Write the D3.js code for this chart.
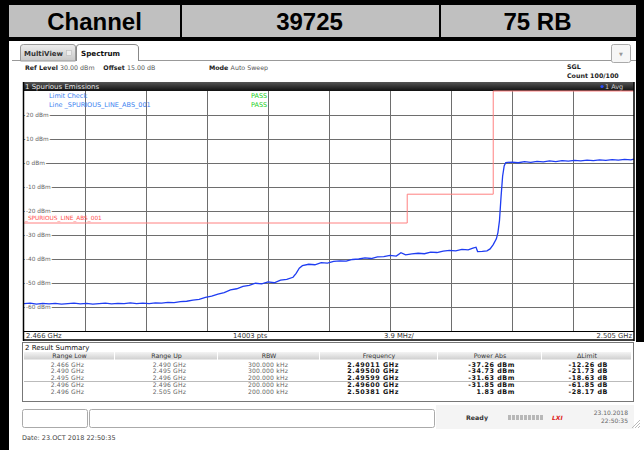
<!DOCTYPE html>
<html>
<head>
<meta charset="utf-8">
<script src="https://cdn.jsdelivr.net/npm/d3@7"></script>
<style>
  body { margin: 0; background: #fff; }
  svg { display: block; }
  text { font-family: "DejaVu Sans", Verdana, sans-serif; }
</style>
</head>
<body>
<script>
// header cells
var headerCells = ["Channel", "39725", "75 RB"];

// y grid labels (dBm)
var levelTicks = [20, 10, 0, -10, -20, -30, -40, -50, -60];

// limit line segments: [start GHz, stop GHz, dBm]
var limitLine = [
  [2.466, 2.4905, -25],
  [2.4905, 2.496, -13],
  [2.496, 2.505, 30]
];

// trace 1 Avg: [GHz, dBm]
var trace = [
  [2.4660,-58.6],[2.4664,-58.4],[2.4668,-58.8],[2.4672,-58.5],[2.4676,-58.7],[2.4680,-58.5],
  [2.4684,-58.8],[2.4688,-58.6],[2.4692,-58.4],[2.4696,-58.7],[2.4700,-58.5],[2.4704,-58.8],
  [2.4708,-58.6],[2.4712,-58.4],[2.4716,-58.7],[2.4720,-58.5],[2.4724,-58.6],[2.4728,-58.3],
  [2.4732,-58.6],[2.4736,-58.4],[2.4740,-58.6],[2.4744,-58.3],[2.4748,-58.4],[2.4752,-58.1],
  [2.4756,-58.2],[2.4760,-57.8],[2.4764,-57.6],[2.4768,-57.1],[2.4772,-56.8],[2.4776,-56.0],
  [2.4780,-55.5],[2.4784,-54.6],[2.4788,-54.0],[2.4792,-52.9],[2.4796,-52.4],[2.4800,-51.4],
  [2.4804,-51.0],[2.4808,-50.1],[2.4812,-50.4],[2.4816,-49.5],[2.4820,-49.9],[2.4824,-48.8],
  [2.4828,-48.5],[2.4832,-47.6],[2.4834,-46.0],[2.4836,-43.8],[2.4838,-42.8],[2.4842,-42.2],
  [2.4846,-42.4],[2.4850,-41.5],[2.4854,-41.7],[2.4858,-41.0],[2.4862,-40.8],[2.4866,-40.9],
  [2.4870,-40.2],[2.4874,-40.0],[2.4878,-39.5],[2.4882,-39.8],[2.4886,-39.1],[2.4890,-39.0],
  [2.4894,-38.5],[2.4898,-38.8],[2.4901,-37.4],[2.4904,-38.3],[2.4908,-37.9],[2.4912,-37.6],
  [2.4916,-37.8],[2.4920,-37.1],[2.4924,-37.3],[2.4928,-36.7],[2.4932,-36.4],[2.4936,-36.6],
  [2.4940,-36.0],[2.4944,-36.2],[2.4947,-35.5],[2.4949,-35.1],[2.4950,-36.9],[2.4953,-36.8],
  [2.4956,-36.6],[2.4958,-35.8],[2.4960,-34.0],[2.4962,-31.6],[2.4963,-29.0],[2.4964,-24.0],
  [2.4965,-14.0],[2.4966,-5.5],[2.4967,-1.2],[2.4968,0.2],[2.4972,0.4],[2.4976,0.1],
  [2.4980,0.6],[2.4984,0.3],[2.4988,0.7],[2.4992,0.5],[2.4996,0.9],[2.5000,0.6],
  [2.5004,1.0],[2.5008,0.8],[2.5012,1.1],[2.5016,0.9],[2.5020,1.2],[2.5024,1.0],
  [2.5028,1.3],[2.5032,1.1],[2.5036,1.4],[2.5040,1.2],[2.5044,1.5],[2.5048,1.3],[2.5050,1.6]
];

// result summary table
var colNames = ["Range Low", "Range Up", "RBW", "Frequency", "Power Abs", "\u0394Limit"];
var rangeLow = ["2.466 GHz", "2.490 GHz", "2.495 GHz", "2.496 GHz", "2.496 GHz"];
var rangeUp = ["2.490 GHz", "2.495 GHz", "2.496 GHz", "2.496 GHz", "2.505 GHz"];
var rbw = ["300.000 kHz", "300.000 kHz", "200.000 kHz", "200.000 kHz", "200.000 kHz"];
var peakFreq = ["2.49011 GHz", "2.49500 GHz", "2.49599 GHz", "2.49600 GHz", "2.50381 GHz"];
var powerAbs = ["-37.26 dBm", "-34.73 dBm", "-31.63 dBm", "-31.85 dBm", "1.83 dBm"];
var deltaLimit = ["-12.26 dB", "-21.73 dB", "-18.63 dB", "-61.85 dB", "-28.17 dB"];

var width = 644, height = 450;
var svg = d3.select("body").append("svg")
  .attr("width", width)
  .attr("height", height);

var defs = svg.append("defs");
var g1 = defs.append("linearGradient").attr("id", "bar").attr("x1", 0).attr("x2", 0).attr("y1", 0).attr("y2", 1);
g1.append("stop").attr("offset", "0%").attr("stop-color", "#555");
g1.append("stop").attr("offset", "100%").attr("stop-color", "#111");
var g2 = defs.append("linearGradient").attr("id", "head").attr("x1", 0).attr("x2", 0).attr("y1", 0).attr("y2", 1);
g2.append("stop").attr("offset", "0%").attr("stop-color", "#f4f4f4");
g2.append("stop").attr("offset", "100%").attr("stop-color", "#cfcfcf");
var g3 = defs.append("linearGradient").attr("id", "tab").attr("x1", 0).attr("x2", 0).attr("y1", 0).attr("y2", 1);
g3.append("stop").attr("offset", "0%").attr("stop-color", "#eee");
g3.append("stop").attr("offset", "100%").attr("stop-color", "#c8c8c8");

// ---- document frame + header ----
svg.append("rect").attr("x", 0).attr("y", 0).attr("width", width).attr("height", 41).attr("fill", "#000");
svg.append("rect").attr("x", 0).attr("y", 0).attr("width", 9).attr("height", height).attr("fill", "#000");
svg.append("rect").attr("x", 636).attr("y", 0).attr("width", 8).attr("height", 342).attr("fill", "#000");

var cellEdges = [9, 180, 439, 636];
headerCells.forEach(function(t, i) {
  svg.append("rect")
    .attr("x", cellEdges[i] + (i ? 2 : 0)).attr("y", 5)
    .attr("width", cellEdges[i + 1] - cellEdges[i] - (i ? 2 : 0)).attr("height", 32)
    .attr("fill", "#c0c0c0");
  svg.append("text")
    .attr("x", (cellEdges[i] + cellEdges[i + 1]) / 2).attr("y", 30)
    .attr("text-anchor", "middle")
    .style("font-family", "'Liberation Sans', Arial, sans-serif")
    .style("font-weight", "bold").style("font-size", "24px")
    .text(t);
});

// ---- tabs ----
svg.append("line").attr("x1", 12).attr("x2", 636).attr("y1", 60.5).attr("y2", 60.5).attr("stroke", "#999");
svg.append("path").attr("d", "M20.5,61 V47 Q20.5,44.5 23.5,44.5 H73 Q75.5,44.5 75.5,47 V61 Z")
  .attr("fill", "url(#tab)").attr("stroke", "#999");
svg.append("text").attr("x", 24).attr("y", 56).style("font-size", "7px").style("font-weight", "bold").attr("fill", "#333").text("MultiView");
svg.append("rect").attr("x", 66.5).attr("y", 50.5).attr("width", 5).attr("height", 5).attr("fill", "#eee").attr("stroke", "#bbb").attr("stroke-width", 0.6);
svg.append("path").attr("d", "M76.5,61 V47 Q76.5,44.5 79.5,44.5 H134 Q138.5,44.5 138.5,48 V61")
  .attr("fill", "#fff").attr("stroke", "#888");
svg.append("text").attr("x", 81).attr("y", 56).style("font-size", "7.2px").style("font-weight", "bold").attr("fill", "#111").text("Spectrum");
svg.append("rect").attr("x", 611.5).attr("y", 44.5).attr("width", 19).attr("height", 18).attr("rx", 2)
  .attr("fill", "#f6f6f6").attr("stroke", "#aaa");
svg.append("text").attr("x", 621).attr("y", 56).attr("text-anchor", "middle").style("font-size", "5px").attr("fill", "#999").text("\u25BC");

// ---- settings row ----
function info(x, y, parts) {
  var t = svg.append("text").attr("x", x).attr("y", y).style("font-size", "6.3px").attr("fill", "#222");
  parts.forEach(function(p) {
    t.append("tspan").style("font-weight", p[1] ? "bold" : "normal").attr("fill", p[1] ? "#222" : "#555").text(p[0]);
  });
}
info(25, 70, [["Ref Level ", 1], ["30.00 dBm", 0], ["\u00A0\u00A0\u00A0 Offset ", 1], ["15.00 dB", 0]]);
info(209, 70, [["Mode ", 1], ["Auto Sweep", 0]]);
info(567, 69, [["SGL", 1]]);
info(567, 78, [["Count 100/100", 1]]);

// ---- plot ----
var x0 = 24, x1 = 634, y0 = 91, y1 = 331;
var x = d3.scaleLinear().domain([2.466, 2.505]).range([x0, x1]);
var y = d3.scaleLinear().domain([-70, 30]).range([y1, y0]);

svg.append("rect").attr("x", 23).attr("y", 82).attr("width", 611).attr("height", 9).attr("fill", "url(#bar)");
svg.append("text").attr("x", 25).attr("y", 89).style("font-size", "7px").attr("fill", "#e6e6e6").text("1 Spurious Emissions");
svg.append("circle").attr("cx", 602).attr("cy", 86.5).attr("r", 1.6).attr("fill", "#2a4dff");
svg.append("text").attr("x", 605).attr("y", 89).style("font-size", "6.5px").attr("fill", "#ccc").text("1 Avg");

var gridX = d3.range(1, 10).map(function(k) { return 2.466 + k * 0.0039; });
svg.append("g")
  .attr("transform", "translate(0," + y1 + ")")
  .call(d3.axisBottom(x).tickValues(gridX).tickSize(-(y1 - y0)).tickFormat(""))
  .call(function(g) {
    g.select(".domain").remove();
    g.selectAll("line").attr("stroke", "#6e6e6e").attr("stroke-width", 1);
  });
svg.append("g")
  .attr("transform", "translate(" + x0 + ",0)")
  .call(d3.axisLeft(y).tickValues(levelTicks).tickSize(-(x1 - x0)).tickFormat(""))
  .call(function(g) {
    g.select(".domain").remove();
    g.selectAll("line").attr("stroke", "#6e6e6e").attr("stroke-width", 1);
  });

svg.selectAll(".ylab").data(levelTicks).enter().append("text")
  .attr("class", "ylab")
  .attr("x", 26).attr("y", function(d) { return y(d) + 2; })
  .style("font-size", "5.8px").attr("fill", "#666")
  .attr("stroke", "#fff").attr("stroke-width", 3).attr("paint-order", "stroke")
  .text(function(d) { return d + " dBm"; });

// limit line
var limitPts = [];
limitLine.forEach(function(s) { limitPts.push([s[0], s[2]]); limitPts.push([s[1], s[2]]); });
svg.append("path")
  .datum(limitPts)
  .attr("fill", "none").attr("stroke", "#ff8080").attr("stroke-width", 1)
  .attr("d", d3.line().x(function(d) { return x(d[0]); }).y(function(d) { return y(d[1]); }));
svg.append("text").attr("x", 25).attr("y", y(-25) - 3).style("font-size", "5.8px").attr("fill", "#ff5050").text("_SPURIOUS_LINE_ABS_001");

// trace
svg.append("path")
  .datum(trace)
  .attr("fill", "none").attr("stroke", "#1f3df2").attr("stroke-width", 1.3)
  .attr("d", d3.line().x(function(d) { return x(d[0]); }).y(function(d) { return y(d[1]); }));

// limit check legend
svg.append("text").attr("x", 49).attr("y", 98).style("font-size", "6.5px").attr("fill", "#3b82f0").text("Limit Check");
svg.append("text").attr("x", 49).attr("y", 107).style("font-size", "6.5px").attr("fill", "#3b82f0").text("Line _SPURIOUS_LINE_ABS_001");
svg.append("text").attr("x", 251).attr("y", 98).style("font-size", "6.5px").attr("fill", "#22d022").text("PASS");
svg.append("text").attr("x", 251).attr("y", 107).style("font-size", "6.5px").attr("fill", "#22d022").text("PASS");

// frame + x label row
svg.append("line").attr("x1", 23.5).attr("x2", 23.5).attr("y1", 82).attr("y2", 341).attr("stroke", "#000").attr("stroke-width", 1.5);
svg.append("line").attr("x1", 634).attr("x2", 634).attr("y1", 82).attr("y2", 341).attr("stroke", "#000").attr("stroke-width", 1.5);
svg.append("line").attr("x1", 23).attr("x2", 634).attr("y1", y1 + 0.5).attr("y2", y1 + 0.5).attr("stroke", "#000");
svg.append("line").attr("x1", 23).attr("x2", 634).attr("y1", 340).attr("y2", 340).attr("stroke", "#000").attr("stroke-width", 1.5);
svg.append("text").attr("x", 26).attr("y", 338).style("font-size", "6.8px").attr("fill", "#333").text(d3.format(".3f")(x.domain()[0]) + " GHz");
svg.append("text").attr("x", 233).attr("y", 338).style("font-size", "6.8px").attr("fill", "#333").text("14003 pts");
svg.append("text").attr("x", 384).attr("y", 338).style("font-size", "6.8px").attr("fill", "#333").text("3.9 MHz/");
svg.append("text").attr("x", 632).attr("y", 338).attr("text-anchor", "end").style("font-size", "6.8px").attr("fill", "#333").text(d3.format(".3f")(x.domain()[1]) + " GHz");

// ---- result summary ----
svg.append("rect").attr("x", 22.5).attr("y", 342.5).attr("width", 611).attr("height", 59).attr("fill", "#fff").attr("stroke", "#777");
svg.append("text").attr("x", 25).attr("y", 350).style("font-size", "7px").attr("fill", "#111").text("2 Result Summary");
var colEdges = [24, 115, 218, 320, 438, 542, 632];
colNames.forEach(function(c, i) {
  svg.append("rect").attr("x", colEdges[i]).attr("y", 352).attr("width", colEdges[i + 1] - colEdges[i] - 1).attr("height", 7.5)
    .attr("fill", "url(#head)");
  svg.append("text").attr("x", (colEdges[i] + colEdges[i + 1]) / 2).attr("y", 358)
    .attr("text-anchor", "middle").style("font-size", "6.3px").attr("fill", "#333").text(c);
});
var rowY = [364.5, 371, 377.5, 385, 391.5];
svg.append("line").attr("x1", 24).attr("x2", 632).attr("y1", 381.5).attr("y2", 381.5).attr("stroke", "#bbb");
var cols = [
  [rangeLow, 84, false], [rangeUp, 186, false], [rbw, 288, false],
  [peakFreq, 399, true], [powerAbs, 515, true], [deltaLimit, 608, true]
];
cols.forEach(function(c) {
  svg.selectAll(null).data(c[0]).enter().append("text")
    .attr("x", c[1]).attr("y", function(d, i) { return rowY[i] + 2.2; })
    .attr("text-anchor", "end")
    .style("font-size", c[2] ? "6.4px" : "6.1px")
    .style("font-weight", c[2] ? "bold" : "normal")
    .style("letter-spacing", c[2] ? "0.55px" : "0.15px")
    .attr("fill", c[2] ? "#111" : "#666")
    .text(function(d) { return d; });
});

// ---- status bar ----
svg.append("rect").attr("x", 22.5).attr("y", 409.5).attr("width", 65).attr("height", 18).attr("rx", 2).attr("fill", "#fff").attr("stroke", "#aaa");
svg.append("rect").attr("x", 89.5).attr("y", 409.5).attr("width", 345).attr("height", 18).attr("rx", 2).attr("fill", "#fff").attr("stroke", "#aaa");
svg.append("rect").attr("x", 436).attr("y", 405).attr("width", 198).attr("height", 24).attr("fill", "#f4f4f4");
svg.append("text").attr("x", 466).attr("y", 420).style("font-size", "6.3px").style("font-weight", "bold").attr("fill", "#333").text("Ready");
d3.range(9).forEach(function(k) {
  svg.append("rect").attr("x", 508 + k * 4).attr("y", 415).attr("width", 3).attr("height", 5).attr("fill", "#b8b8b8");
});
svg.append("text").attr("x", 552).attr("y", 420).style("font-size", "6px").style("font-weight", "bold").style("font-style", "italic").attr("fill", "#d22").text("LXI");
svg.append("text").attr("x", 628).attr("y", 415).attr("text-anchor", "end").style("font-size", "6px").attr("fill", "#666").text("23.10.2018");
svg.append("text").attr("x", 628).attr("y", 423).attr("text-anchor", "end").style("font-size", "6px").attr("fill", "#666").text("22:50:35");
svg.append("path").attr("d", "M632,428 L640,420 M635,428 L640,423 M638,428 L640,426").attr("stroke", "#aaa").attr("stroke-width", 0.8);

svg.append("text").attr("x", 22).attr("y", 440).style("font-size", "6.5px").attr("fill", "#444").text("Date: 23.OCT 2018  22:50:35");
</script>
</body>
</html>
